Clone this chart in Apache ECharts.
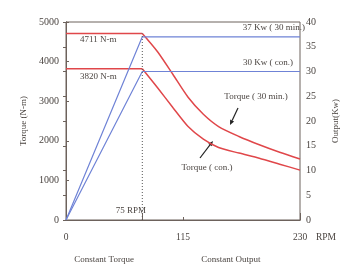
<!DOCTYPE html>
<html>
<head>
<meta charset="utf-8">
<script src="https://cdn.jsdelivr.net/npm/echarts@6/dist/echarts.min.js"></script>
<style>
  html, body { margin: 0; padding: 0; background: #fff; }
  #chart { width: 348px; height: 265px; }
</style>
</head>
<body>
<div id="chart"></div>
<script>
// spindle torque / output vs speed
const baseRpm = 75
const maxRpm = 230
// constant-output part of the torque curves, from base speed up
const curveRpm = [75, 90, 105, 120, 135, 150, 170, 190, 210, 230]
const torque30min = [4711, 4250, 3680, 3100, 2670, 2360, 2110, 1900, 1710, 1540]
const torqueCon = [3820, 3340, 2840, 2360, 2040, 1830, 1690, 1560, 1410, 1260]
const powerRpm = [0, 75, 230]
const output30min = [0, 37, 37]
const outputCon = [0, 30, 30]
const xTickLabels = [0, 115, 230]
const zoneNames = ['Constant Torque', 'Constant Output']
const zoneLabelAt = [37.5, 162]
const zoneEdges = [0, 75, 230]

const axisColor = '#6d625c'
const textColor = '#4a4440'
const red = '#e0474a'
const blue = '#6f83d6'
const serif = 'Liberation Serif'

const chart = echarts.init(document.getElementById('chart'))

function pairs(xs, ys) {
  return xs.map((x, i) => [x, ys[i]])
}

function arrow(x1, y1, x2, y2) {
  // line from (x1,y1) with head at (x2,y2)
  const a = Math.atan2(y2 - y1, x2 - x1)
  const L = 5, W = 2.2
  const bx = x2 - L * Math.cos(a), by = y2 - L * Math.sin(a)
  const px = -Math.sin(a) * W, py = Math.cos(a) * W
  return [
    { type: 'line', shape: { x1, y1, x2: bx, y2: by }, style: { stroke: '#222', lineWidth: 1.2 } },
    { type: 'polygon', shape: { points: [[x2, y2], [bx + px, by + py], [bx - px, by - py]] }, style: { fill: '#222' } }
  ]
}

function txt(text, x, y, align) {
  return {
    type: 'text', x, y,
    style: { text, fill: textColor, font: '9px "' + serif + '"', align: align || 'left', verticalAlign: 'middle' }
  }
}

const plain = v => String(v)

function redLine(name, data, smooth) {
  return { name, type: 'line', symbol: 'none', smooth, data, lineStyle: { color: red, width: 1.5 } }
}

const option = {
  animation: false,
  textStyle: { fontFamily: serif },
  grid: { left: 66, right: 31, top: 22, bottom: 45, show: true, borderColor: axisColor, borderWidth: 1 },
  xAxis: [
    {
      type: 'value', min: 0, max: maxRpm,
      name: 'RPM', nameLocation: 'end', nameGap: 16,
      nameTextStyle: { color: textColor, fontSize: 9.5, fontFamily: serif, verticalAlign: 'top', padding: [12, 0, 0, 0] },
      axisLine: { lineStyle: { color: axisColor } },
      axisTick: { inside: true, length: 3, customValues: [115], lineStyle: { color: axisColor } },
      axisLabel: { customValues: xTickLabels, margin: 12, color: textColor, fontSize: 9.5, fontFamily: serif, formatter: plain },
      splitLine: { show: false }
    },
    {
      type: 'value', min: 0, max: maxRpm, position: 'bottom', offset: 30,
      axisLine: { show: true, lineStyle: { color: axisColor } },
      axisTick: { show: true, inside: true, length: 7, customValues: zoneEdges, lineStyle: { color: axisColor } },
      axisLabel: {
        customValues: zoneLabelAt, margin: 5, color: textColor, fontSize: 9, fontFamily: serif,
        formatter: v => zoneNames[zoneLabelAt.indexOf(v)]
      },
      splitLine: { show: false }
    }
  ],
  yAxis: [
    {
      type: 'value', min: 0, max: 5000, interval: 1000,
      name: 'Torque (N-m)', nameLocation: 'middle', nameGap: 30,
      nameTextStyle: { color: textColor, fontSize: 9, fontFamily: serif },
      axisLine: { show: true, lineStyle: { color: axisColor } },
      axisTick: { show: true, inside: true, length: 3, lineStyle: { color: axisColor } },
      axisLabel: { margin: 7, color: textColor, fontSize: 10, fontFamily: serif, formatter: plain },
      splitLine: { show: false }
    },
    {
      type: 'value', min: 0, max: 40, interval: 5, position: 'right',
      name: 'Output(Kw)', nameLocation: 'middle', nameGap: 31,
      nameTextStyle: { color: textColor, fontSize: 9, fontFamily: serif },
      axisLine: { show: true, lineStyle: { color: axisColor } },
      axisTick: { show: true, inside: true, length: 3, lineStyle: { color: axisColor } },
      axisLabel: { margin: 6, color: textColor, fontSize: 10, fontFamily: serif, formatter: plain },
      splitLine: { show: false }
    }
  ],
  series: [
    redLine('Torque ( 30 min.) flat', [[0, torque30min[0]], [baseRpm, torque30min[0]]], false),
    redLine('Torque ( 30 min.)', pairs(curveRpm, torque30min), 0.25),
    redLine('Torque ( con.) flat', [[0, torqueCon[0]], [baseRpm, torqueCon[0]]], false),
    redLine('Torque ( con.)', pairs(curveRpm, torqueCon), 0.25),
    {
      name: '37 Kw ( 30 min.)', type: 'line', symbol: 'none', yAxisIndex: 1,
      data: pairs(powerRpm, output30min),
      lineStyle: { color: blue, width: 1.2 }
    },
    {
      name: '30 Kw ( con.)', type: 'line', symbol: 'none', yAxisIndex: 1,
      data: pairs(powerRpm, outputCon),
      lineStyle: { color: blue, width: 1.2 }
    },
    {
      name: 'base', type: 'line', symbol: 'none',
      data: [[baseRpm, 0], [baseRpm, torque30min[0]]],
      lineStyle: { color: '#555', width: 1, type: [1, 2] }
    }
  ],
  graphic: [
    txt('4711 N-m', 80, 40),
    txt('3820 N-m', 80, 77),
    txt('37 Kw ( 30 min.)', 305, 28, 'right'),
    txt('30 Kw ( con.)', 268, 63, 'center'),
    txt('Torque ( 30 min.)', 256, 97, 'center'),
    txt('Torque ( con.)', 207, 168, 'center'),
    txt('75 RPM', 146, 211, 'right'),
    ...arrow(238, 108, 230, 125),
    ...arrow(200, 158, 213, 141)
  ]
}

chart.setOption(option)
</script>
</body>
</html>
